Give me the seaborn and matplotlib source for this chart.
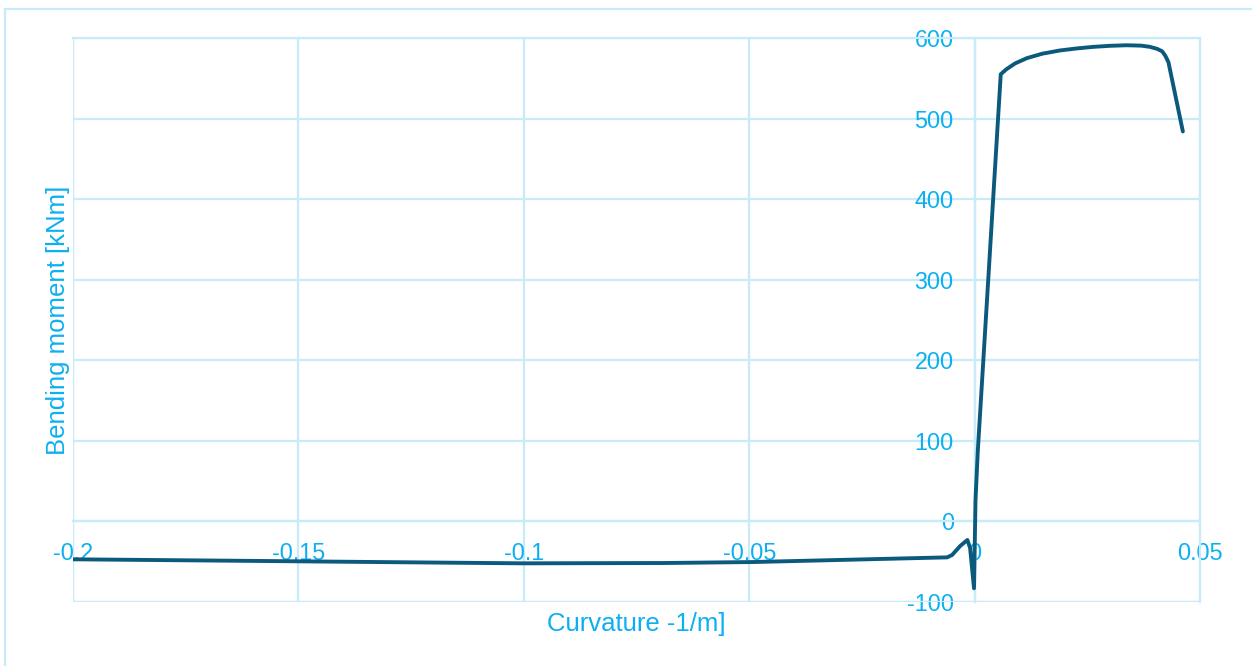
import matplotlib
matplotlib.use("Agg")
import matplotlib.pyplot as plt
import seaborn as sns
import pandas as pd
from matplotlib.patches import Rectangle

# Moment-curvature response of the section
curvature = [-0.2, -0.15, -0.1208, -0.1, -0.0687, -0.0492, -0.0061, -0.0050,
             -0.0032, -0.0016, -0.0010, -0.00013, 0.0002, 0.0007, 0.0058,
             0.0070, 0.0090, 0.0116, 0.0150, 0.0189, 0.0226, 0.0263, 0.0300,
             0.0337, 0.0370, 0.0389, 0.0405, 0.0416, 0.0423, 0.0430, 0.0462]
moment = [-47.0, -49.5, -51.0, -52.0, -51.6, -50.4, -44.6, -41.7,
          -30.5, -23.0, -33.0, -83.0, 26.6, 86.5, 555.0,
          561.0, 568.5, 575.0, 580.5, 584.5, 587.0, 589.0, 590.3,
          591.0, 590.5, 589.0, 586.5, 583.5, 578.0, 570.0, 484.0]

x_ticks = [-0.2, -0.15, -0.1, -0.05, 0, 0.05]
x_tick_labels = ["-0.2", "-0.15", "-0.1", "-0.05", "0", "0.05"]
y_ticks = [-100, 0, 100, 200, 300, 400, 500, 600]
y_tick_labels = ["-100", "0", "100", "200", "300", "400", "500", "600"]

LINE = "#0B5A7D"
TEXT = "#0CB0F0"
GRID = "#C8EBFA"

sns.set_theme(style="white")
plt.rcParams["font.family"] = ["Liberation Sans", "DejaVu Sans"]

df = pd.DataFrame({"Curvature": curvature, "Moment": moment})

fig = plt.figure(figsize=(12.52, 6.66), dpi=100)
ax = fig.add_axes([73 / 1252, 1 - 602 / 666, 1127 / 1252, 564 / 666])

# chart-area border
fig.patches.append(Rectangle((5 / 1252, -0.05), 1.2, 1 - 9 / 666 + 0.05,
                             transform=fig.transFigure, fill=False,
                             edgecolor=GRID, linewidth=1.6, zorder=0))

sns.lineplot(data=df, x="Curvature", y="Moment", sort=False, estimator=None,
             color=LINE, linewidth=2.8, ax=ax, zorder=5)
for ln in ax.get_lines():
    ln.set_solid_joinstyle("round")
    ln.set_solid_capstyle("round")

ax.set_xlim(-0.2, 0.05)
ax.set_ylim(-100, 600)
ax.set_xticks(x_ticks)
ax.set_xticklabels(x_tick_labels)
ax.set_yticks(y_ticks)
ax.set_yticklabels(y_tick_labels)

ax.grid(True, color=GRID, linewidth=1.6)
ax.set_axisbelow(True)

for side in ["top", "right"]:
    ax.spines[side].set_color(GRID)
    ax.spines[side].set_linewidth(1.6)
ax.spines["left"].set_position(("data", 0))
ax.spines["bottom"].set_position(("data", 0))
for side in ["left", "bottom"]:
    ax.spines[side].set_color(GRID)
    ax.spines[side].set_linewidth(1.6)

# outer plot frame on the left and bottom edges
ax.axvline(-0.2, color=GRID, linewidth=1.6, zorder=1)
ax.axhline(-100, color=GRID, linewidth=1.6, zorder=1)

ax.tick_params(axis="both", length=0, labelsize=16.8, labelcolor=TEXT)
ax.tick_params(axis="y", pad=15)
ax.tick_params(axis="x", pad=15)

ax.set_xlabel("Curvature -1/m]", fontsize=18.5, color=TEXT)
ax.set_ylabel("Bending moment [kNm]", fontsize=18.5, color=TEXT)
ax.xaxis.set_label_coords(0.5, -0.018)
ax.yaxis.set_label_coords(-0.003, 0.5)

fig.savefig("out.png", dpi=100)
